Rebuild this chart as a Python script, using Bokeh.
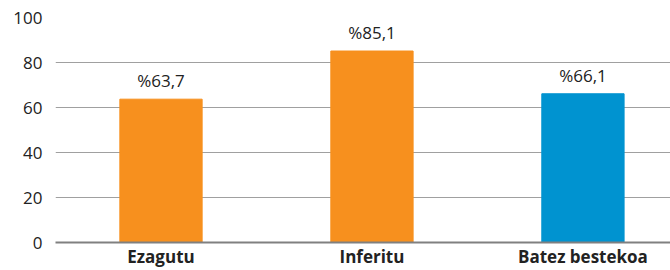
from bokeh.plotting import figure
from bokeh.models import Range1d, FixedTicker, ColumnDataSource
from bokeh.core.properties import value
from bokeh.embed import file_html
from bokeh.resources import INLINE

categories = ["Ezagutu", "Inferitu", "Batez bestekoa"]
values = [63.7, 85.1, 66.1]
labels = ["%63,7", "%85,1", "%66,1"]
colors = ["#F7901E", "#F7901E", "#0093D0"]
y_ticks = [0, 20, 40, 60, 80, 100]

FONT = "Open Sans"

src = ColumnDataSource(dict(
    x=list(range(len(categories))),
    top=values,
    label=labels,
    color=colors,
))

p = figure(width=670, height=270, output_backend="svg", toolbar_location=None,
           x_range=Range1d(-0.5, 2.415), y_range=Range1d(0, 100),
           min_border_left=55, min_border_right=0, min_border_top=17,
           min_border_bottom=28)
p.outline_line_color = None
p.background_fill_color = "white"
p.border_fill_color = "white"

p.vbar(x="x", top="top", width=0.39, color="color", source=src)
p.text(x="x", y="top", text="label", source=src, text_align="center",
       text_baseline="bottom", y_offset=-7, text_font=value(FONT),
       text_font_size="17px", text_color="#222222")

# x axis
p.xaxis.ticker = FixedTicker(ticks=list(range(len(categories))))
p.xaxis.major_label_overrides = {i: c for i, c in enumerate(categories)}
p.xaxis.major_label_text_font = FONT
p.xaxis.major_label_text_font_style = "bold"
p.xaxis.major_label_text_font_size = "17px"
p.xaxis.major_label_text_color = "#222222"
p.xaxis.major_label_standoff = 2
p.xaxis.major_tick_line_color = None
p.xaxis.major_tick_out = 0
p.xaxis.major_tick_in = 0
p.xaxis.minor_tick_line_color = None
p.xaxis.axis_line_color = "#808080"
p.xaxis.axis_line_width = 2
p.xgrid.grid_line_color = None

# y axis
p.yaxis.ticker = FixedTicker(ticks=y_ticks)
p.yaxis.major_label_text_font = FONT
p.yaxis.major_label_text_font_size = "17px"
p.yaxis.major_label_text_color = "#222222"
p.yaxis.major_label_standoff = 13
p.yaxis.major_tick_line_color = None
p.yaxis.major_tick_out = 0
p.yaxis.major_tick_in = 0
p.yaxis.minor_tick_line_color = None
p.yaxis.axis_line_color = None
p.ygrid.grid_line_color = "#a0a0a0"
p.ygrid.grid_line_width = 1

open("out.html", "w").write(file_html(p, INLINE))
